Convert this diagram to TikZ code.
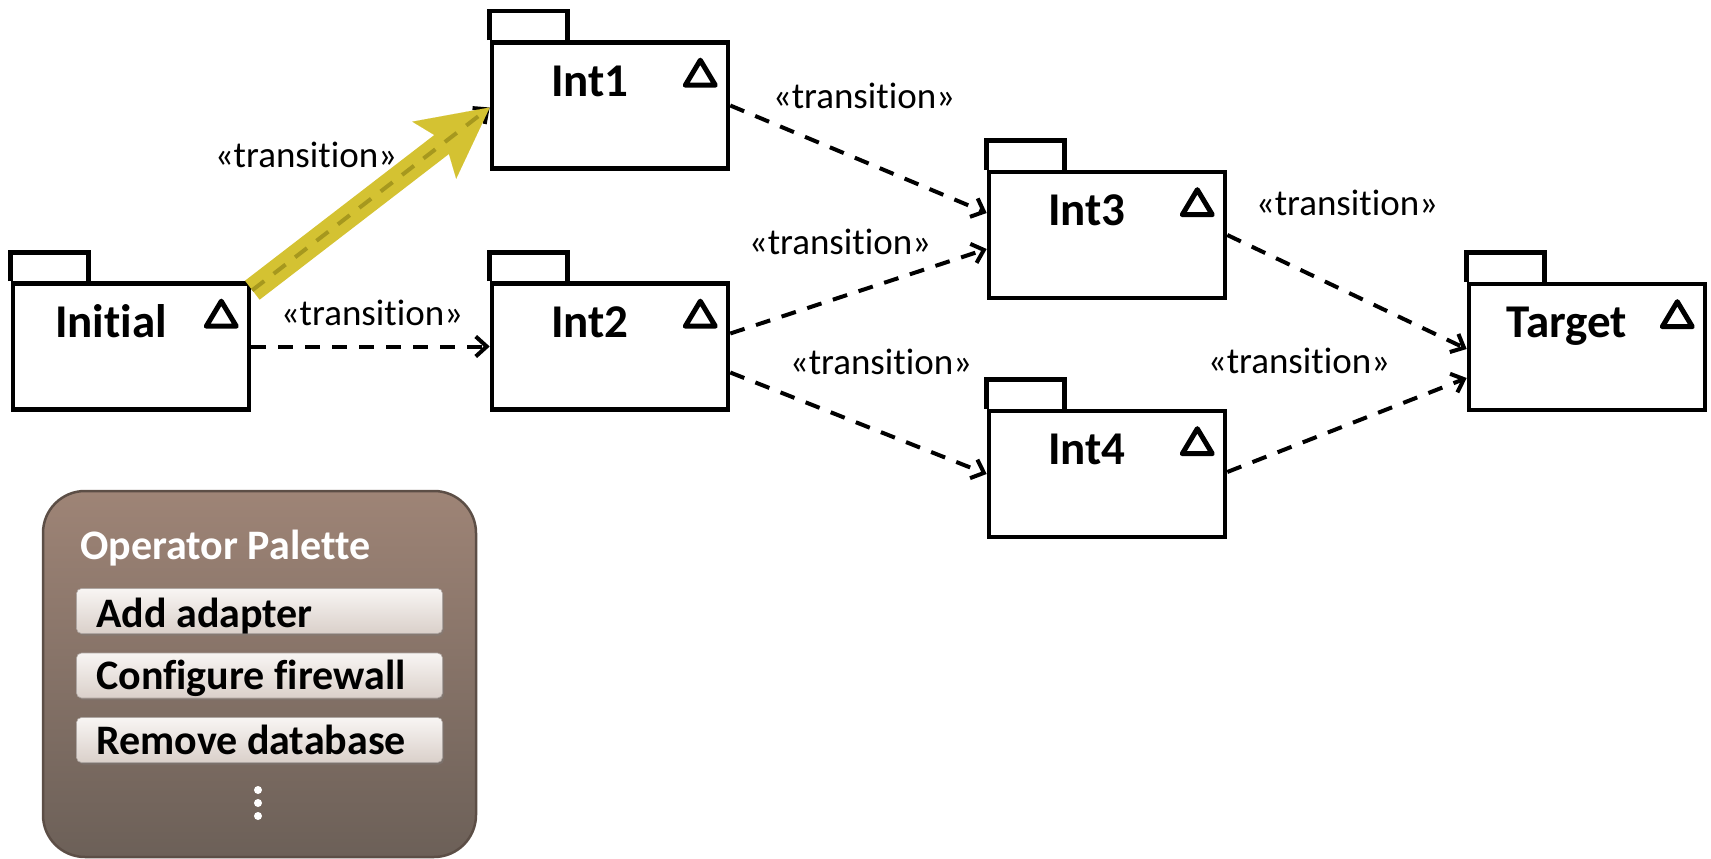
\documentclass[tikz,border=0pt]{standalone}
\usepackage{fontspec}
\setmainfont{Carlito}[Ligatures=NoCommon]
\usetikzlibrary{arrows.meta,calc,shadows}

\definecolor{hilite}{RGB}{212,194,50}
\definecolor{hiliteDash}{RGB}{166,152,30}
\definecolor{palTop}{RGB}{158,132,118}
\definecolor{palBot}{RGB}{108,96,88}
\definecolor{palEdge}{RGB}{92,78,70}
\definecolor{btnTop}{RGB}{248,245,243}
\definecolor{btnBot}{RGB}{218,208,202}

% UML package: body node, folder tab, name and the small triangle mark
\newcommand\umlpackage[4]{%
  \node[pkgbody] (#1) at (#2,#3) {};
  \draw[pkgline] (#1.north west) -- ++(0,-29) -- ++(78,0) -- ++(0,29);
  \node[pkgname] (#1-name) at ($(#1.north)+(-20,56)$) {#4};
  \draw[pkgline, line width=5pt, line join=round] ($(#1.north east)+(-30,20)$) -- ++(-15,25) -- ++(30,0) -- cycle;
}

\begin{document}
\begin{tikzpicture}[x=1pt,y=-1pt,
  pkgbody/.style={draw, line width=4.6pt, minimum width=236pt, minimum height=126pt, inner sep=0pt, fill=white},
  pkgline/.style={line width=4.6pt},
  pkgname/.style={anchor=base, inner sep=0pt, font=\fontsize{47}{56}\selectfont\bfseries},
  trans/.style={line width=4pt, dash pattern=on 15pt off 12pt, -{Straight Barb[length=11pt,width=20pt]}},
  translabel/.style={anchor=base, inner sep=0pt, font=\fontsize{37}{44}\selectfont},
  btn/.style={rounded corners=5pt, minimum width=366pt, minimum height=45pt, inner sep=0pt,
    top color=btnTop, bottom color=btnBot, draw=btnBot!80!black, line width=0.6pt,
    drop shadow={shadow xshift=1.5pt, shadow yshift=-2pt, opacity=0.35}},
  btnlabel/.style={anchor=base west, inner sep=0pt, font=\fontsize{42}{50}\selectfont\bfseries},
  dot/.style={circle, fill=white, minimum size=8pt, inner sep=0pt}
]
\useasboundingbox (0,0) rectangle (1711,859);

% packages
\umlpackage{Initial}{131}{346.5}{Initial}
\umlpackage{Int1}{610}{105.5}{Int1}
\umlpackage{Int2}{610}{346.5}{Int2}
\umlpackage{Int3}{1107}{235}{Int3}
\umlpackage{Int4}{1107}{474}{Int4}
\umlpackage{Target}{1587}{347}{Target}

% transitions
\draw[trans] (Initial.east) -- (Int2.west);
\draw[trans] (Int1.east) -- ($(Int3.west)+(0,-22)$);
\draw[trans] ($(Int2.east)+(0,-13)$) -- ($(Int3.west)+(0,14)$);
\draw[trans] ($(Int2.east)+(0,26)$) -- (Int4.west);
\draw[trans] (Int3.east) -- ($(Target.west)+(0,2)$);
\draw[trans] ($(Int4.east)+(0,-2)$) -- ($(Target.west)+(0,31)$);

% highlighted transition Initial -> Int1
\coordinate (hs) at ($(Initial.north east)+(1,9)$);
\coordinate (he) at ($(Int1.west)+(0,2)$);
\draw[trans] (hs) -- (he);
\draw[hilite, line width=24pt, -{Stealth[length=70pt,width=72pt,inset=14pt,line width=0.01pt]}] (hs) -- (he);
\draw[hiliteDash, line width=4pt, dash pattern=on 15pt off 12pt] (hs) -- ($(he)!8pt!(hs)$);

% transition labels
\node[translabel] (tA) at (306,167) {«transition»};
\node[translabel] (tB) at (372,325) {«transition»};
\node[translabel] (tC) at (864,108) {«transition»};
\node[translabel] (tD) at (840,254) {«transition»};
\node[translabel] (tE) at (881,374) {«transition»};
\node[translabel] (tF) at (1347,215) {«transition»};
\node[translabel] (tG) at (1299,373) {«transition»};

% operator palette
\shade[top color=palTop, bottom color=palBot, rounded corners=42pt, draw=palEdge, line width=2.5pt]
  (43,491) rectangle (476,857);
\node[anchor=base west, inner sep=0pt, text=white, font=\fontsize{42}{50}\selectfont\bfseries]
  (palTitle) at (80,559) {Operator Palette};
\node[btn] (b1) at (259.5,611) {};
\node[btn] (b2) at (259.5,675.5) {};
\node[btn] (b3) at (259.5,740) {};
\node[btnlabel] (b1t) at (96,627) {Add adapter};
\node[btnlabel] (b2t) at (96,689) {Configure firewall};
\node[btnlabel] (b3t) at (96,754) {Remove database};
\node[dot] (d1) at (258,790) {};
\node[dot] (d2) at (258,803) {};
\node[dot] (d3) at (258,816) {};
\end{tikzpicture}
\end{document}
